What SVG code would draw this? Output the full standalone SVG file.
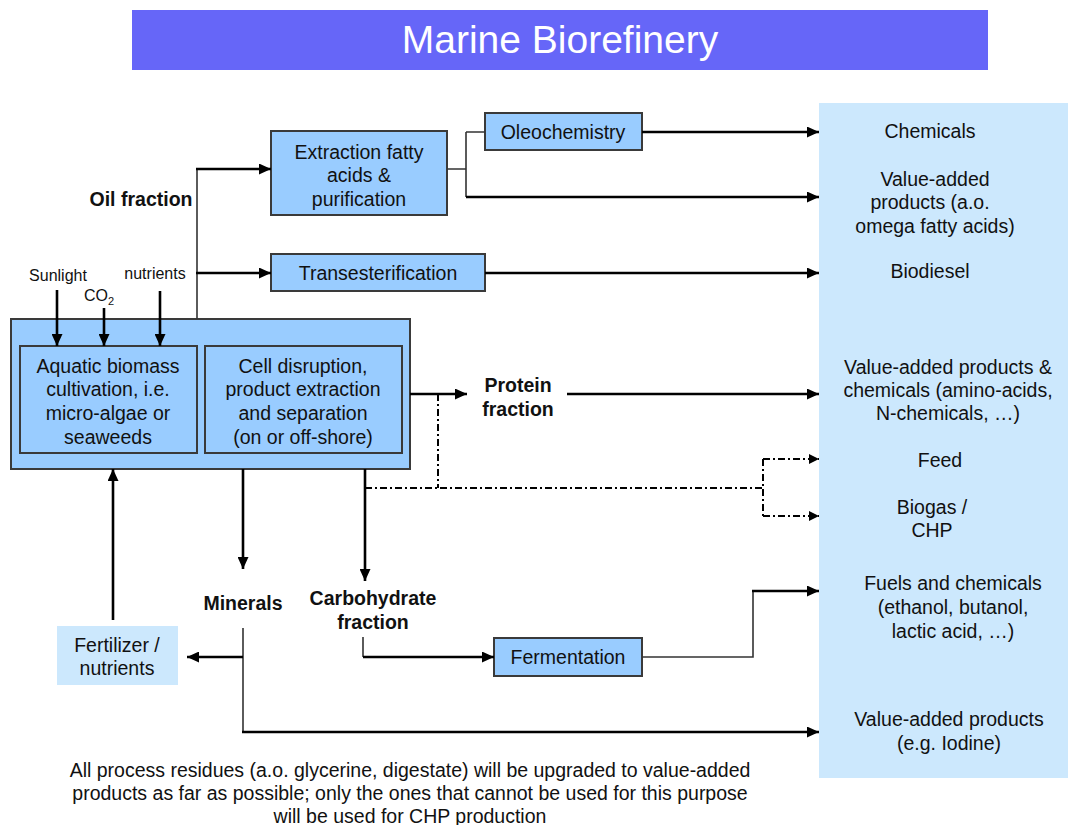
<svg xmlns="http://www.w3.org/2000/svg" width="1068" height="825" viewBox="0 0 1068 825">
<defs>
<marker id="ah" markerUnits="userSpaceOnUse" markerWidth="13" markerHeight="11" refX="12" refY="5.5" orient="auto"><path d="M0,0 L12,5.5 L0,11 z" fill="#000"/></marker>
<marker id="ahs" markerUnits="userSpaceOnUse" markerWidth="11" markerHeight="10" refX="10" refY="5" orient="auto"><path d="M0,0 L10,5 L0,10 z" fill="#000"/></marker>
<style>
text{font-family:"Liberation Sans",Arial,sans-serif;font-size:19.5px;fill:#111;text-anchor:middle}
.b{font-weight:bold}
.s{font-size:16px}
.node{fill:#99ccff;stroke:#3a3a3a;stroke-width:2}
.out{fill:#cce8fd}
.thick{stroke:#000;stroke-width:2.6;fill:none}
.thin{stroke:#333;stroke-width:1.6;fill:none}
.dd{stroke:#000;stroke-width:2;fill:none;stroke-dasharray:7,3,2,3}
</style>
</defs>
<rect width="1068" height="825" fill="#fff"/>
<g id="title"><rect x="132" y="10" width="856" height="60" fill="#6666f8"/><text x="560" y="53" style="font-size:39px;fill:#fff">Marine Biorefinery</text></g>
<g id="products-panel"><rect class="out" x="819" y="103" width="249" height="675"/>
<text x="930" y="138">Chemicals</text>
<text x="935" y="186">Value-added</text><text x="930" y="209">products (a.o.</text><text x="935" y="233">omega fatty acids)</text>
<text x="930" y="278">Biodiesel</text>
<text x="948" y="374">Value-added products &amp;</text><text x="948" y="397">chemicals (amino-acids,</text><text x="948" y="420">N-chemicals, …)</text>
<text x="940" y="467">Feed</text>
<text x="932" y="514">Biogas /</text><text x="932" y="537">CHP</text>
<text x="953" y="590">Fuels and chemicals</text><text x="953" y="614">(ethanol, butanol,</text><text x="953" y="638">lactic acid, …)</text>
<text x="949" y="726">Value-added products</text><text x="949" y="750">(e.g. Iodine)</text>
</g>
<g id="extraction"><rect class="node" x="271" y="131" width="176" height="84"/><text x="359" y="159">Extraction fatty</text><text x="359" y="182">acids &amp;</text><text x="359" y="206">purification</text></g>
<g id="oleochemistry"><rect class="node" x="485" y="113" width="157" height="37"/><text x="563" y="139">Oleochemistry</text></g>
<g id="transesterification"><rect class="node" x="271" y="254" width="214" height="37"/><text x="378" y="280">Transesterification</text></g>
<g id="biorefinery"><rect class="node" x="11" y="319" width="399" height="150"/>
<rect class="node" x="20" y="346" width="177" height="107"/>
<text x="108" y="373">Aquatic biomass</text><text x="108" y="396">cultivation, i.e.</text><text x="108" y="420">micro-algae or</text><text x="108" y="444">seaweeds</text>
<rect class="node" x="205" y="346" width="197" height="107"/>
<text x="303" y="373">Cell disruption,</text><text x="303" y="396">product extraction</text><text x="303" y="420">and separation</text><text x="303" y="444">(on or off-shore)</text></g>
<g id="fermentation"><rect class="node" x="494" y="638" width="148" height="38"/><text x="568" y="664">Fermentation</text></g>
<g id="fertilizer"><rect class="out" x="57" y="626" width="121" height="59"/><text x="117" y="652">Fertilizer /</text><text x="117" y="675">nutrients</text></g>
<g id="labels">
<text class="b" x="141" y="206">Oil fraction</text>
<text class="s" x="58" y="281">Sunlight</text>
<text class="s" x="99" y="301">CO<tspan dy="4" style="font-size:11px">2</tspan></text>
<text class="s" x="155" y="279">nutrients</text>
<text class="b" x="518" y="392">Protein</text><text class="b" x="518" y="416">fraction</text>
<text class="b" x="243" y="610">Minerals</text>
<text class="b" x="373" y="605">Carbohydrate</text><text class="b" x="373" y="629">fraction</text>
<text x="410" y="777">All process residues (a.o. glycerine, digestate) will be upgraded to value-added</text>
<text x="410" y="800">products as far as possible; only the ones that cannot be used for this purpose</text>
<text x="410" y="823">will be used for CHP production</text>
</g>
<g id="connectors">
<path class="thin" d="M197,319 V169"/>
<path class="thick" d="M196,169 H271" marker-end="url(#ah)"/>
<path class="thick" d="M196,273 H271" marker-end="url(#ah)"/>
<path class="thick" d="M57,290 V346" marker-end="url(#ah)"/>
<path class="thick" d="M104,308 V346" marker-end="url(#ah)"/>
<path class="thick" d="M160,291 V346" marker-end="url(#ah)"/>
<path class="thin" d="M447,169 H466 M466,132 V197 M466,132 H485"/>
<path class="thick" d="M466,197 H819" marker-end="url(#ah)"/>
<path class="thick" d="M642,132 H819" marker-end="url(#ah)"/>
<path class="thick" d="M485,273 H819" marker-end="url(#ah)"/>
<path class="thick" d="M410,394 H467" marker-end="url(#ah)"/>
<path class="thick" d="M567,394 H819" marker-end="url(#ah)"/>
<path class="dd" d="M438,394 V488 M365,488 H763 M763,459 V517"/>
<path class="dd" d="M763,459 H819" marker-end="url(#ahs)"/>
<path class="dd" d="M763,516 H819" marker-end="url(#ahs)"/>
<path class="thick" d="M243,469 V569" marker-end="url(#ah)"/>
<path class="thick" d="M365,469 V581" marker-end="url(#ah)"/>
<path class="thin" d="M243,628 V732"/>
<path class="thick" d="M243,657 H187" marker-end="url(#ah)"/>
<path class="thick" d="M242,732 H819" marker-end="url(#ah)"/>
<path class="thin" d="M363,637 V657"/>
<path class="thick" d="M363,657 H494" marker-end="url(#ah)"/>
<path class="thin" d="M642,657 H753 V591"/>
<path class="thick" d="M752,591 H819" marker-end="url(#ah)"/>
<path class="thick" d="M113,620 V469" marker-end="url(#ah)"/>
</g>
</svg>
